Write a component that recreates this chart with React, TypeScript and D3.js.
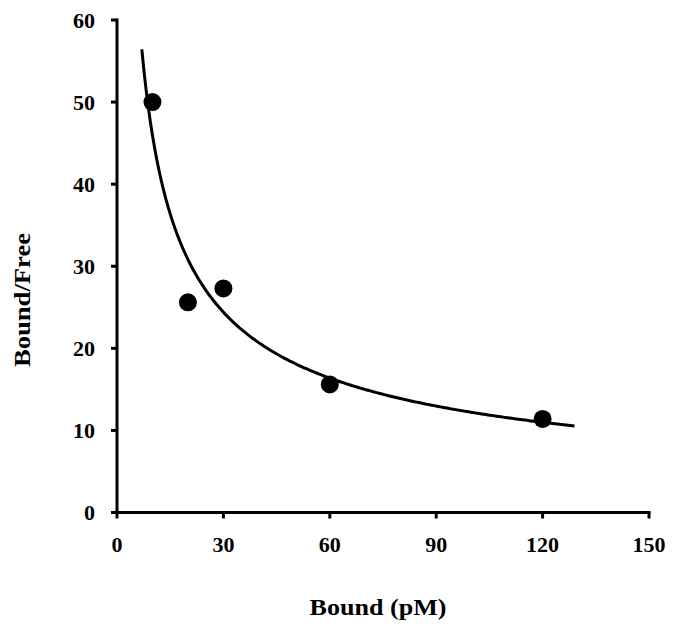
import React from "react";
import * as d3 from "d3";

const boundPM = [10, 20, 30, 60, 120];
const boundFree = [50.0, 25.6, 27.3, 15.6, 11.4];
const xTicks = [0, 30, 60, 90, 120, 150];
const yTicks = [0, 10, 20, 30, 40, 50, 60];
const trendRange = [7, 129];
const xTitle = "Bound (pM)";
const yTitle = "Bound/Free";

const W = 675;
const H = 627;
const left = 117;
const right = 649;
const top = 20;
const bottom = 512.5;

function powerFit(xs: number[], ys: number[]) {
  const lx = xs.map(Math.log);
  const ly = ys.map(Math.log);
  const mx = d3.mean(lx) as number;
  const my = d3.mean(ly) as number;
  let sxy = 0, sxx = 0;
  lx.forEach((v, i) => {
    sxy += (v - mx) * (ly[i] - my);
    sxx += (v - mx) * (v - mx);
  });
  const b = sxy / sxx;
  const a = Math.exp(my - b * mx);
  return (x: number) => a * Math.pow(x, b);
}

export default function App() {
  const x = d3.scaleLinear().domain([0, 150]).range([left, right]);
  const y = d3.scaleLinear().domain([0, 60]).range([bottom, top]);
  const fit = powerFit(boundPM, boundFree);
  const n = 200;
  const samples = d3.range(n + 1).map(
    (i) => trendRange[0] + ((trendRange[1] - trendRange[0]) * i) / n
  );
  const line = d3
    .line<number>()
    .x((d) => x(d))
    .y((d) => y(fit(d)));

  const font = "'Liberation Serif', 'Times New Roman', serif";

  return (
    <svg
      width={W}
      height={H}
      style={{ position: "absolute", left: 0, top: 0, background: "#fff" }}
    >
      <rect width={W} height={H} fill="#fff" />
      {/* axes */}
      <line x1={left} x2={left} y1={top} y2={bottom} stroke="#000" strokeWidth={3} strokeLinecap="square" />
      <line x1={left} x2={right} y1={bottom} y2={bottom} stroke="#000" strokeWidth={3} strokeLinecap="square" />
      {yTicks.map((t) => (
        <g key={"y" + t}>
          <line x1={left - 6} x2={left} y1={y(t)} y2={y(t)} stroke="#000" strokeWidth={3} />
          <text
            x={95}
            y={y(t)}
            dy="0.35em"
            textAnchor="end"
            fontFamily={font}
            fontWeight="bold"
            fontSize={22}
          >
            {t}
          </text>
        </g>
      ))}
      {xTicks.map((t) => (
        <g key={"x" + t}>
          <line x1={x(t)} x2={x(t)} y1={bottom} y2={bottom + 6} stroke="#000" strokeWidth={3} />
          <text
            x={x(t)}
            y={552}
            textAnchor="middle"
            fontFamily={font}
            fontWeight="bold"
            fontSize={22}
          >
            {t}
          </text>
        </g>
      ))}
      {/* trendline */}
      <path d={line(samples) || ""} fill="none" stroke="#000" strokeWidth={3} />
      {/* points */}
      {boundPM.map((v, i) => (
        <circle key={i} cx={x(v)} cy={y(boundFree[i])} r={9} fill="#000" />
      ))}
      {/* titles */}
      <text
        x={378}
        y={615}
        textAnchor="middle"
        fontFamily={font}
        fontWeight="bold"
        fontSize={23}
        textLength={137}
        lengthAdjust="spacingAndGlyphs"
      >
        {xTitle}
      </text>
      <text
        transform="translate(30,300) rotate(-90)"
        x={0}
        y={0}
        textAnchor="middle"
        fontFamily={font}
        fontWeight="bold"
        fontSize={23}
        textLength={134}
        lengthAdjust="spacingAndGlyphs"
      >
        {yTitle}
      </text>
    </svg>
  );
}
